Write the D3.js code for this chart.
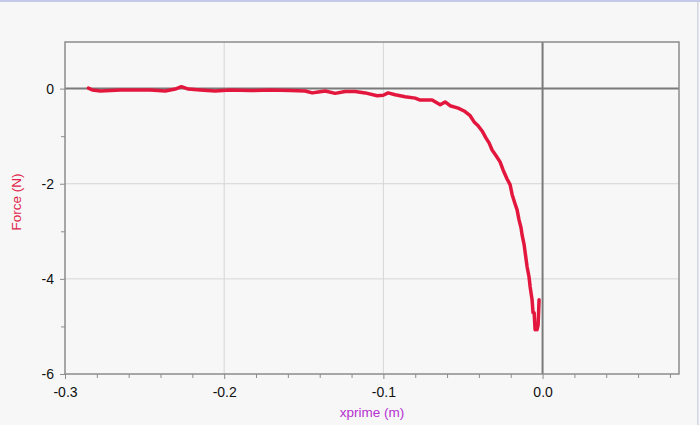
<!DOCTYPE html>
<html>
<head>
<meta charset="utf-8">
<script src="https://cdn.jsdelivr.net/npm/d3@7"></script>
<style>
html,body{margin:0;padding:0;background:#f7f7f7;}
svg{display:block;}
text{font-family:"Liberation Sans",Arial,Helvetica,sans-serif;}
</style>
</head>
<body>
<script>
// Data
const xprime = [-0.2853,-0.2828,-0.2778,-0.2715,-0.2652,-0.2558,-0.2464,-0.2370,-0.2307,-0.2269,-0.2225,-0.2150,-0.2056,-0.1962,-0.1836,-0.1711,-0.1585,-0.1491,-0.1447,-0.1409,-0.1365,-0.1303,-0.1240,-0.1177,-0.1114,-0.1039,-0.1001,-0.0970,-0.0926,-0.0863,-0.0800,-0.0769,-0.0694,-0.0643,-0.0612,-0.0581,-0.0530,-0.0493,-0.0455,-0.0430,-0.0405,-0.0380,-0.0355,-0.0336,-0.0317,-0.0292,-0.0267,-0.0248,-0.0223,-0.0204,-0.0191,-0.0173,-0.0160,-0.0148,-0.0135,-0.0129,-0.0116,-0.0110,-0.0097,-0.0085,-0.0078,-0.0066,-0.0060,-0.0053,-0.0047,-0.0035,-0.0035,-0.0028,-0.0022];
const force = [0.01,-0.03,-0.05,-0.04,-0.03,-0.03,-0.03,-0.05,-0.01,0.04,-0.01,-0.03,-0.05,-0.03,-0.04,-0.03,-0.04,-0.05,-0.09,-0.07,-0.05,-0.10,-0.06,-0.06,-0.09,-0.15,-0.14,-0.09,-0.13,-0.17,-0.20,-0.24,-0.24,-0.34,-0.28,-0.36,-0.41,-0.47,-0.57,-0.70,-0.78,-0.89,-1.04,-1.14,-1.29,-1.41,-1.54,-1.71,-1.90,-2.02,-2.23,-2.42,-2.55,-2.76,-2.93,-3.07,-3.28,-3.43,-3.75,-3.96,-4.17,-4.44,-4.71,-4.71,-5.07,-4.99,-5.07,-4.97,-4.44];
const xTicks = [-0.3,-0.2,-0.1,0.0];
const xTickLabels = ["-0.3","-0.2","-0.1","0.0"];
const xMinor = [-0.28,-0.26,-0.24,-0.22,-0.18,-0.16,-0.14,-0.12,-0.08,-0.06,-0.04,-0.02,0.02,0.04,0.06,0.08];
const yTicks = [0,-2,-4,-6];
const yTickLabels = ["0","-2","-4","-6"];
const yMinor = [-1,-3,-5];
const xDomain = [-0.3, 0.0857];
const yDomain = [-6, 0.98];

const W = 700, H = 425;
const L = 65, R = 679, T = 42, B = 374;

const svg = d3.select("body").append("svg").attr("width", W).attr("height", H);
svg.append("rect").attr("width", W).attr("height", H).attr("fill", "#f7f7f7");
svg.append("rect").attr("x",0).attr("y",0).attr("width",W).attr("height",2).attr("fill","#c6c9ea");
svg.append("rect").attr("x",697).attr("y",2).attr("width",1.5).attr("height",H).attr("fill","#d4d6e4");

const x = d3.scaleLinear().domain(xDomain).range([L, R]);
const y = d3.scaleLinear().domain(yDomain).range([B, T]);

// grid
const g = svg.append("g");
g.selectAll(".vg").data(xTicks.filter(d => d !== 0 && d !== -0.3)).enter().append("line")
  .attr("x1", d => x(d)).attr("x2", d => x(d)).attr("y1", T).attr("y2", B)
  .attr("stroke", "#d6d6d6").attr("stroke-width", 1);
g.selectAll(".hg").data(yTicks.filter(d => d !== 0 && d !== -6)).enter().append("line")
  .attr("x1", L).attr("x2", R).attr("y1", d => y(d)).attr("y2", d => y(d))
  .attr("stroke", "#d6d6d6").attr("stroke-width", 1);

// zero lines
g.append("line").attr("x1", x(0)).attr("x2", x(0)).attr("y1", T).attr("y2", B)
  .attr("stroke", "#7a7a7a").attr("stroke-width", 2);
g.append("line").attr("x1", L).attr("x2", R).attr("y1", y(0)).attr("y2", y(0))
  .attr("stroke", "#7a7a7a").attr("stroke-width", 2);

// frame
svg.append("rect").attr("x", L).attr("y", T).attr("width", R - L).attr("height", B - T)
  .attr("fill", "none").attr("stroke", "#8c8c8c").attr("stroke-width", 1.5);

// axes
const xAxis = d3.axisBottom(x).tickValues(xTicks).tickFormat((d,i) => xTickLabels[i]).tickSize(5).tickPadding(8);
const xAx = svg.append("g").attr("transform", `translate(0,${B})`).call(xAxis);
xAx.select(".domain").remove();
xAx.selectAll("line").attr("stroke", "#8c8c8c");
xAx.selectAll("text").attr("font-size", 14).attr("fill", "#111");

const xMin = d3.axisBottom(x).tickValues(xMinor).tickFormat("").tickSize(4);
const xMi = svg.append("g").attr("transform", `translate(0,${B})`).call(xMin);
xMi.select(".domain").remove();
xMi.selectAll("line").attr("stroke", "#8c8c8c");

const yAxis = d3.axisLeft(y).tickValues(yTicks).tickFormat((d,i) => yTickLabels[i]).tickSize(5).tickPadding(6);
const yAx = svg.append("g").attr("transform", `translate(${L},0)`).call(yAxis);
yAx.select(".domain").remove();
yAx.selectAll("line").attr("stroke", "#8c8c8c");
yAx.selectAll("text").attr("font-size", 14).attr("fill", "#111");

const yMin = d3.axisLeft(y).tickValues(yMinor).tickFormat("").tickSize(4);
const yMi = svg.append("g").attr("transform", `translate(${L},0)`).call(yMin);
yMi.select(".domain").remove();
yMi.selectAll("line").attr("stroke", "#8c8c8c");

// labels
svg.append("text").attr("x", 372).attr("y", 417).attr("text-anchor", "middle")
  .attr("font-size", 13.5).attr("fill", "#b52fd0").text("xprime (m)");
svg.append("text").attr("transform", "translate(21,202) rotate(-90)").attr("text-anchor", "middle")
  .attr("font-size", 13.5).attr("fill", "#e0234a").text("Force (N)");

// curve
const data = xprime.map((v, i) => [v, force[i]]);
const line = d3.line().x(d => x(d[0])).y(d => y(d[1]));
svg.append("path").datum(data).attr("d", line)
  .attr("fill", "none").attr("stroke", "#e3173e").attr("stroke-width", 3.5)
  .attr("stroke-linejoin", "round").attr("stroke-linecap", "round");
</script>
</body>
</html>
